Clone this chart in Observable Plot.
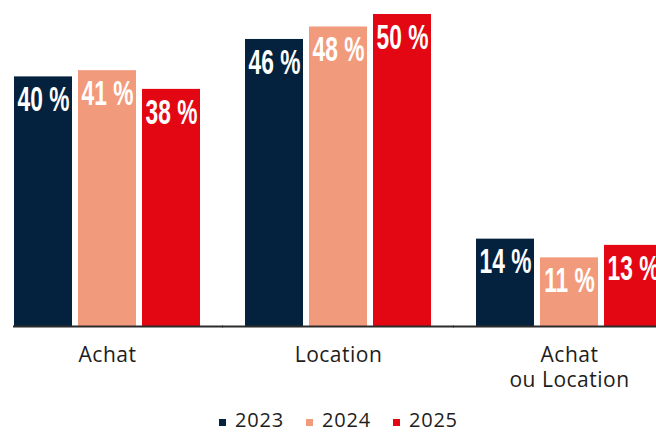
<!DOCTYPE html>
<html>
<head>
<meta charset="utf-8">
<script src="https://cdn.jsdelivr.net/npm/d3@7"></script>
<script src="https://cdn.jsdelivr.net/npm/@observablehq/plot@0.6"></script>
<style>
  html, body { margin: 0; padding: 0; background: #fff; width: 656px; height: 432px; overflow: hidden; }
  #chart { position: relative; width: 656px; height: 432px; }
  #chart svg { display: block; max-width: none !important; }
  #legend { position: absolute; left: 219px; top: 408px; display: flex; align-items: baseline;
    font-family: "Open Sans", sans-serif; font-weight: 500; font-size: 20px; line-height: 24px;
    color: #1d1d1b; letter-spacing: 0.8px; white-space: nowrap; }
  #legend .item { display: inline-block; margin-right: 22px; }
  #legend .sw { display: inline-block; width: 7px; height: 7px; margin-right: 9px; position: relative; top: -1px; }
</style>
</head>
<body>
<div id="chart"></div>
<script>
// ---- data ----
const categories = ["Achat", "Location", "Achat\nou Location"];
const years = ["2023", "2024", "2025"];
const colors = ["#04223d", "#f29b7c", "#e30613"];
const values2023 = [40, 46, 14];
const values2024 = [41, 48, 11];
const values2025 = [38, 50, 13];
const valueSuffix = " %";

const seriesValues = [values2023, values2024, values2025];
const data = [];
categories.forEach((c, i) => {
  years.forEach((y, j) => data.push({category: c, year: y, value: seriesValues[j][i]}));
});

const ruleFirst = [{category: categories[0]}];
const ruleRest = categories.slice(1).map(c => ({category: c}));

const chart = Plot.plot({
  width: 656,
  height: 395,
  marginLeft: 14,
  marginRight: 0,
  marginTop: 14,
  marginBottom: 69,
  fx: {domain: categories, range: [14, 662], paddingInner: 0.195, paddingOuter: 0, label: null},
  x: {domain: years, paddingInner: 0.094, paddingOuter: 0, axis: null},
  y: {domain: [0, 50], axis: null},
  color: {domain: years, range: colors},
  marks: [
    Plot.barY(data, {fx: "category", x: "year", y: "value", fill: "year"}),
    Plot.text(data, {
      fx: "category", x: "year", y: "value",
      text: d => d.value + valueSuffix,
      dy: 23, lineAnchor: "middle",
      fill: "white", fontSize: 35, fontWeight: "bold",
      fontFamily: "'Liberation Sans', Arial, sans-serif"
    }),
    Plot.ruleY(ruleFirst, {fx: "category", y: d => 0, stroke: "#2b2b2b", strokeWidth: 2, insetLeft: -1, insetRight: -23}),
    Plot.ruleY(ruleRest, {fx: "category", y: d => 0, stroke: "#2b2b2b", strokeWidth: 2, insetLeft: -23, insetRight: -23}),
    Plot.axisFx({
      anchor: "bottom", tickSize: 0, tickPadding: 18, label: null,
      fontSize: 21, lineHeight: 1.19, fill: "#1d1d1b",
      fontFamily: "'Open Sans', sans-serif", fontWeight: 500
    })
  ]
});

document.getElementById("chart").appendChild(chart);

// condense the value labels horizontally
const sx = 0.65;
d3.select(chart).selectAll('g[aria-label="text"] text').each(function() {
  const t = d3.select(this);
  const tr = t.attr("transform");
  if (tr && tr.includes("translate")) {
    t.attr("transform", tr + ` scale(${sx},1)`);
  } else {
    const x = +t.attr("x") || 0;
    t.attr("transform", `translate(${x},0) scale(${sx},1) translate(${-x},0)`);
  }
});
d3.select(chart).selectAll('g[aria-label="fx-axis tick label"]').style("letter-spacing", "0.5px");

// legend
const legend = document.createElement("div");
legend.id = "legend";
years.forEach((y, j) => {
  const item = document.createElement("span");
  item.className = "item";
  const sw = document.createElement("span");
  sw.className = "sw";
  sw.style.background = colors[j];
  item.appendChild(sw);
  item.appendChild(document.createTextNode(y));
  legend.appendChild(item);
});
document.getElementById("chart").appendChild(legend);
</script>
</body>
</html>
